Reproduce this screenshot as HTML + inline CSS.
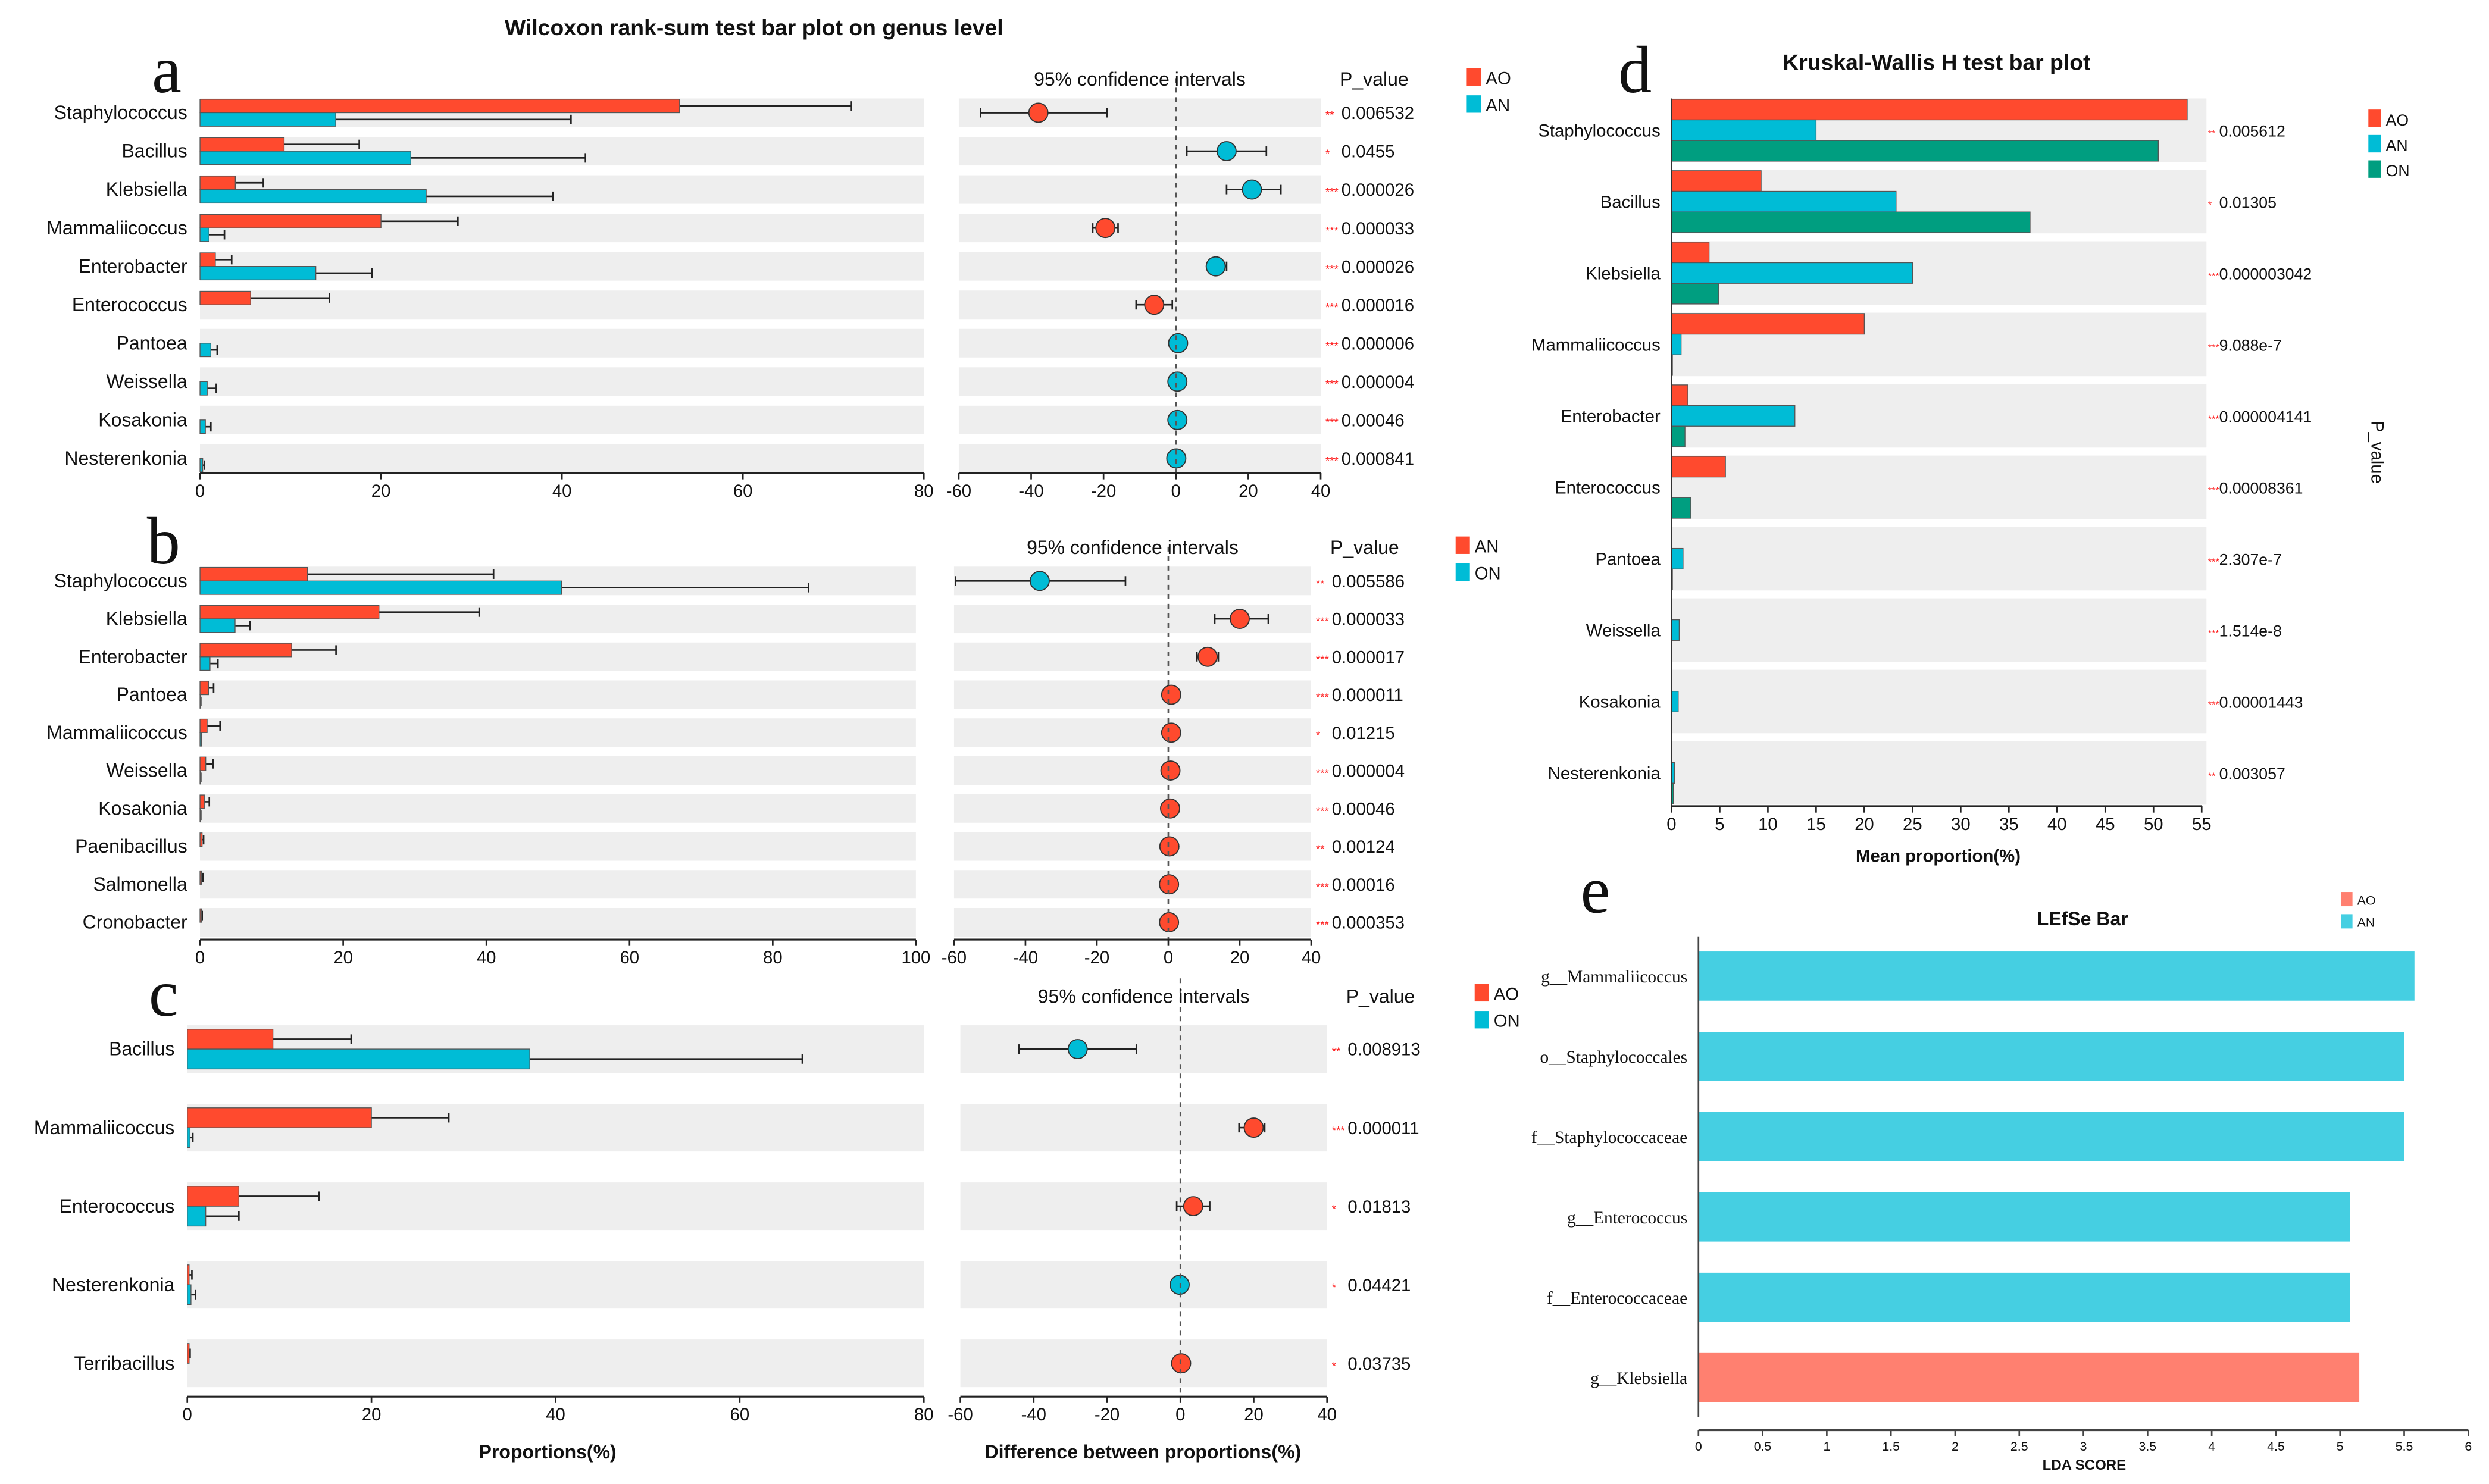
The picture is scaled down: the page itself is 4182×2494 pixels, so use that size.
<!DOCTYPE html>
<html><head><meta charset="utf-8"><style>
html,body{margin:0;padding:0;background:#fff}
svg{display:block}
</style></head><body>
<svg id="fig" xmlns="http://www.w3.org/2000/svg" width="4182" height="2494" viewBox="0 0 1568 935" font-family="Liberation Sans, Arial, sans-serif">
<rect width="1568" height="935" fill="#fff"/>
</svg>
<script>
// ---- Panel a data ----
const aCats=["Staphylococcus","Bacillus","Klebsiella","Mammaliicoccus","Enterobacter","Enterococcus","Pantoea","Weissella","Kosakonia","Nesterenkonia"];
const aG1=[53,9.3,3.9,20,1.7,5.6,0,0,0,0];
const aG2=[15,23.3,25,1,12.8,0,1.2,0.8,0.6,0.3];
const aE1=[72,17.6,7,28.5,3.5,14.3,0,0,0,0];
const aE2=[41,42.6,39,2.7,19,0,1.9,1.8,1.2,0.5];
const aDiff=[-38,14,21,-19.5,11,-6,0.6,0.4,0.4,0.1];
const aLo=[-54,3,14,-23,9,-11,0.6,0.4,0.4,0.1];
const aHi=[-19,25,29,-16,14,-1,0.6,0.4,0.4,0.1];
const aStars=["**","*","***","***","***","***","***","***","***","***"];
const aP=["0.006532","0.0455","0.000026","0.000033","0.000026","0.000016","0.000006","0.000004","0.00046","0.000841"];
const aTicks=[0,20,40,60,80];
const ciTicks=[-60,-40,-20,0,20,40];
// ---- Panel b data ----
const bCats=["Staphylococcus","Klebsiella","Enterobacter","Pantoea","Mammaliicoccus","Weissella","Kosakonia","Paenibacillus","Salmonella","Cronobacter"];
const bG1=[15,25,12.8,1.2,1,0.8,0.6,0.3,0.2,0.2];
const bG2=[50.5,4.9,1.4,0.1,0.2,0.1,0.1,0,0,0];
const bE1=[41,39,19,1.9,2.8,1.8,1.3,0.5,0.4,0.3];
const bE2=[85,7,2.5,0,0,0,0,0,0,0];
const bDiff=[-36,20,11,0.8,0.8,0.6,0.5,0.3,0.2,0.2];
const bLo=[-59.6,13,8,0.8,0.8,0.6,0.5,0.3,0.2,0.2];
const bHi=[-12,28,14,0.8,0.8,0.6,0.5,0.3,0.2,0.2];
const bStars=["**","***","***","***","*","***","***","**","***","***"];
const bP=["0.005586","0.000033","0.000017","0.000011","0.01215","0.000004","0.00046","0.00124","0.00016","0.000353"];
const bTicks=[0,20,40,60,80,100];
// ---- Panel c data ----
const cCats=["Bacillus","Mammaliicoccus","Enterococcus","Nesterenkonia","Terribacillus"];
const cG1=[9.3,20,5.6,0.2,0.2];
const cG2=[37.2,0.3,2,0.4,0];
const cE1=[17.8,28.4,14.3,0.5,0.3];
const cE2=[66.8,0.6,5.6,0.9,0];
const cDiff=[-28,20,3.5,-0.2,0.2];
const cLo=[-44,16,-1,-0.2,0.2];
const cHi=[-12,23,8,-0.2,0.2];
const cStars=["**","***","*","*","*"];
const cP=["0.008913","0.000011","0.01813","0.04421","0.03735"];
const cTicks=[0,20,40,60,80];
// ---- Panel d data ----
const dCats=["Staphylococcus","Bacillus","Klebsiella","Mammaliicoccus","Enterobacter","Enterococcus","Pantoea","Weissella","Kosakonia","Nesterenkonia"];
const dAO=[53.5,9.3,3.9,20,1.7,5.6,0,0,0,0];
const dAN=[15,23.3,25,1,12.8,0,1.2,0.8,0.7,0.3];
const dON=[50.5,37.2,4.9,0.1,1.4,2,0.1,0,0,0.2];
const dStars=["**","*","***","***","***","***","***","***","***","**"];
const dP=["0.005612","0.01305","0.000003042","9.088e-7","0.000004141","0.00008361","2.307e-7","1.514e-8","0.00001443","0.003057"];
const dTicks=[0,5,10,15,20,25,30,35,40,45,50,55];
// ---- Panel e data ----
const eCats=["g__Mammaliicoccus","o__Staphylococcales","f__Staphylococcaceae","g__Enterococcus","f__Enterococcaceae","g__Klebsiella"];
const eVals=[5.58,5.5,5.5,5.08,5.08,5.15];
const eGroup=["AN","AN","AN","AN","AN","AO"];
const eTicks=[0,0.5,1,1.5,2,2.5,3,3.5,4,4.5,5,5.5,6];

const RED="#FF4A2E",CYAN="#00BCD6",GREEN="#009E80";
const SERIF="font-family:'Liberation Serif',serif";
const svg=document.getElementById('fig');
const NS="http://www.w3.org/2000/svg";
function mk(tag,attrs,name,parent){
  const el=document.createElementNS(NS,tag);
  for(const k in attrs)el.setAttribute(k,attrs[k]);
  
  
  (parent||svg).appendChild(el);return el;
}
function txt(x,y,s,size,name,extra){
  const a=Object.assign({x:x,y:y,'font-size':size,fill:'#111'},extra||{});
  const t=mk('text',a,name);t.textContent=s;return t;
}
function letter(x,y,s){txt(x,y,s,42,'panel-letter-'+s,{style:SERIF,'text-anchor':'middle'});}

function twoGroup(o){
  const n=o.cats.length;
  const xs=v=>o.x0+(v-o.t[0])/(o.t[o.t.length-1]-o.t[0])*(o.x1-o.x0);
  const cx=v=>o.c0+(v+60)/100*(o.c1-o.c0);
  const ry=i=>o.y0+i*o.step;
  for(let i=0;i<n;i++){
    const y=ry(i);
    mk('rect',{x:o.x0,y:y-o.bh,width:o.x1-o.x0,height:o.bh*2,fill:'#EEEEEE'},'row-band');
    mk('rect',{x:o.c0,y:y-o.bh,width:o.c1-o.c0,height:o.bh*2,fill:'#EEEEEE'},'ci-row-band');
    txt(o.x0-8,y+4,o.cats[i],o.fs,'category-label',{'text-anchor':'end'});
    const h=o.barh;
    if(o.g1[i]>0){
      mk('line',{x1:xs(o.g1[i]),x2:xs(o.e1[i]),y1:y-h/2,y2:y-h/2,stroke:'#222','stroke-width':1},'error-bar');
      mk('line',{x1:xs(o.e1[i]),x2:xs(o.e1[i]),y1:y-h/2-3,y2:y-h/2+3,stroke:'#222','stroke-width':1},'error-cap');
      mk('rect',{x:o.x0,y:y-h,width:xs(o.g1[i])-o.x0,height:h,fill:o.col1,stroke:'#555','stroke-width':0.5},'bar-'+o.n1);
    }
    if(o.g2[i]>0){
      mk('line',{x1:xs(o.g2[i]),x2:xs(Math.max(o.e2[i],o.g2[i])),y1:y+h/2,y2:y+h/2,stroke:'#222','stroke-width':1},'error-bar');
      mk('line',{x1:xs(Math.max(o.e2[i],o.g2[i])),x2:xs(Math.max(o.e2[i],o.g2[i])),y1:y+h/2-3,y2:y+h/2+3,stroke:'#222','stroke-width':1},'error-cap');
      mk('rect',{x:o.x0,y:y,width:xs(o.g2[i])-o.x0,height:h,fill:o.col2,stroke:'#555','stroke-width':0.5},'bar-'+o.n2);
    }
    if(o.hi[i]-o.lo[i]>0.5){
      mk('line',{x1:cx(o.lo[i]),x2:cx(o.hi[i]),y1:y,y2:y,stroke:'#222','stroke-width':1},'ci-line');
      mk('line',{x1:cx(o.lo[i]),x2:cx(o.lo[i]),y1:y-3,y2:y+3,stroke:'#222','stroke-width':1},'ci-cap');
      mk('line',{x1:cx(o.hi[i]),x2:cx(o.hi[i]),y1:y-3,y2:y+3,stroke:'#222','stroke-width':1},'ci-cap');
    }
    mk('circle',{cx:cx(o.diff[i]),cy:y,r:o.r,fill:o.g1[i]>o.g2[i]?o.col1:o.col2,stroke:'#333','stroke-width':0.7},'ci-point');
    txt(o.c1+3,y+4,o.stars[i],7,'significance-stars',{fill:'#FF2020'});
    txt(o.c1+13,y+4,o.p[i],o.fs-1,'p-value');
  }
  mk('line',{x1:cx(0),x2:cx(0),y1:o.y0-o.step*0.9,y2:o.ay,stroke:'#555','stroke-width':1,'stroke-dasharray':'3,3'},'zero-line');
  mk('line',{x1:o.x0,x2:o.x1,y1:o.ay,y2:o.ay,stroke:'#222','stroke-width':1.2},'x-axis');
  o.t.forEach(v=>{mk('line',{x1:xs(v),x2:xs(v),y1:o.ay,y2:o.ay+4,stroke:'#222'},'x-tick');txt(xs(v),o.ay+15,String(v),11,'x-tick-label',{'text-anchor':'middle'});});
  mk('line',{x1:o.c0,x2:o.c1,y1:o.ay,y2:o.ay,stroke:'#222','stroke-width':1.2},'ci-axis');
  ciTicks.forEach(v=>{mk('line',{x1:cx(v),x2:cx(v),y1:o.ay,y2:o.ay+4,stroke:'#222'},'ci-tick');txt(cx(v),o.ay+15,String(v),11,'ci-tick-label',{'text-anchor':'middle'});});
  txt((o.c0+o.c1)/2,o.hy,'95% confidence intervals',12,'ci-header',{'text-anchor':'middle'});
  txt(o.c1+12,o.hy,'P_value',12,'p-value-header');
  mk('rect',{x:o.lx,y:o.ly,width:9,height:11,fill:o.col1},'legend-swatch-'+o.n1);
  txt(o.lx+12,o.ly+10,o.n1,11,'legend-label-'+o.n1);
  mk('rect',{x:o.lx,y:o.ly+17,width:9,height:11,fill:o.col2},'legend-swatch-'+o.n2);
  txt(o.lx+12,o.ly+27,o.n2,11,'legend-label-'+o.n2);
}

txt(475,22,'Wilcoxon rank-sum test bar plot on genus level',14,'main-title',{'font-weight':'bold','text-anchor':'middle'});
letter(105,58,'a');letter(103,355,'b');letter(103,640,'c');letter(1030,58,'d');letter(1005,575,'e');

twoGroup({cats:aCats,g1:aG1,g2:aG2,e1:aE1,e2:aE2,diff:aDiff,lo:aLo,hi:aHi,stars:aStars,p:aP,t:aTicks,
 x0:126,x1:582,c0:604,c1:832,y0:71,step:24.2,bh:9,barh:8.5,r:6,ay:298,hy:54,fs:12,
 col1:RED,col2:CYAN,n1:'AO',n2:'AN',lx:924,ly:43});
twoGroup({cats:bCats,g1:bG1,g2:bG2,e1:bE1,e2:bE2,diff:bDiff,lo:bLo,hi:bHi,stars:bStars,p:bP,t:bTicks,
 x0:126,x1:577,c0:601,c1:826,y0:366,step:23.9,bh:9,barh:8.5,r:6,ay:592,hy:349,fs:12,
 col1:RED,col2:CYAN,n1:'AN',n2:'ON',lx:917,ly:338});
twoGroup({cats:cCats,g1:cG1,g2:cG2,e1:cE1,e2:cE2,diff:cDiff,lo:cLo,hi:cHi,stars:cStars,p:cP,t:cTicks,
 x0:118,x1:582,c0:605,c1:836,y0:661,step:49.5,bh:15,barh:12.5,r:6,ay:880,hy:632,fs:12,
 col1:RED,col2:CYAN,n1:'AO',n2:'ON',lx:929,ly:620});
txt(345,919,'Proportions(%)',12,'x-axis-title',{'font-weight':'bold','text-anchor':'middle'});
txt(720,919,'Difference between proportions(%)',12,'ci-axis-title',{'font-weight':'bold','text-anchor':'middle'});

// ---- Panel d ----
(function(){
  const x0=1053,x1=1387,y0=82,step=45,bh=20,h=13;
  const xs=v=>x0+v/55*(x1-x0);
  txt(1220,44,'Kruskal-Wallis H test bar plot',14,'d-title',{'font-weight':'bold','text-anchor':'middle'});
  dCats.forEach((c,i)=>{
    const y=y0+i*step;
    mk('rect',{x:x0,y:y-bh,width:x1-x0+3,height:bh*2,fill:'#EEEEEE'},'d-row-band');
    txt(x0-7,y+4,c,11,'d-category-label',{'text-anchor':'end'});
    [[dAO,RED,'AO'],[dAN,CYAN,'AN'],[dON,GREEN,'ON']].forEach((s,k)=>{
      const v=s[0][i];
      if(v>0)mk('rect',{x:x0,y:y-19.5+k*13,width:xs(v)-x0,height:h,fill:s[1],stroke:'#555','stroke-width':0.5},'d-bar-'+s[2]);
    });
    txt(x1+4,y+4,dStars[i],6,'d-significance-stars',{fill:'#FF2020'});
    txt(x1+11,y+4,dP[i],10,'d-p-value');
  });
  mk('line',{x1:x0,x2:x0,y1:y0-bh,y2:508,stroke:'#333'},'d-y-axis');
  mk('line',{x1:x0,x2:x1,y1:508,y2:508,stroke:'#222','stroke-width':1.2},'d-x-axis');
  dTicks.forEach(v=>{mk('line',{x1:xs(v),x2:xs(v),y1:508,y2:512,stroke:'#222'},'d-x-tick');txt(xs(v),523,String(v),11,'d-x-tick-label',{'text-anchor':'middle'});});
  txt(1221,543,'Mean proportion(%)',11,'d-x-axis-title',{'font-weight':'bold','text-anchor':'middle'});
  [['AO',RED],['AN',CYAN],['ON',GREEN]].forEach((l,k)=>{
    mk('rect',{x:1492,y:69+k*16,width:8,height:11,fill:l[1]},'d-legend-swatch-'+l[0]);
    txt(1503,79+k*16,l[0],10,'d-legend-label-'+l[0]);
  });
  txt(0,0,'P_value',11,'d-p-value-axis-title',{transform:'translate(1494,265) rotate(90)'});
})();

// ---- Panel e ----
(function(){
  const x0=1070,x1=1555,y0=615,step=50.6,h=31,ay=901;
  const xs=v=>x0+v/6*(x1-x0);
  txt(1312,583,'LEfSe Bar',12,'e-title',{'font-weight':'bold','text-anchor':'middle'});
  eCats.forEach((c,i)=>{
    const y=y0+i*step;
    mk('rect',{x:x0,y:y-h/2,width:xs(eVals[i])-x0,height:h,fill:eGroup[i]==='AO'?'#FF8070':'#45CFE2'},'e-bar-'+eGroup[i]);
    txt(x0-7,y+4,c,11,'e-category-label',{'text-anchor':'end',style:SERIF});
  });
  mk('line',{x1:x0,x2:x0,y1:590,y2:893,stroke:'#444','stroke-width':1},'e-y-axis');
  mk('line',{x1:x0,x2:x1,y1:ay,y2:ay,stroke:'#444','stroke-width':1.5},'e-x-axis');
  eTicks.forEach(v=>{mk('line',{x1:xs(v),x2:xs(v),y1:ay,y2:ay+4,stroke:'#444'},'e-x-tick');txt(xs(v),ay+13,String(v),8,'e-x-tick-label',{'text-anchor':'middle'});});
  txt(1313,926,'LDA SCORE',9,'e-x-axis-title',{'font-weight':'bold','text-anchor':'middle'});
  mk('rect',{x:1475,y:562,width:7,height:9,fill:'#FF8070'},'e-legend-swatch-AO');
  txt(1485,570,'AO',8,'e-legend-label-AO');
  mk('rect',{x:1475,y:576,width:7,height:9,fill:'#45CFE2'},'e-legend-swatch-AN');
  txt(1485,584,'AN',8,'e-legend-label-AN');
})();
</script>
</body></html>
